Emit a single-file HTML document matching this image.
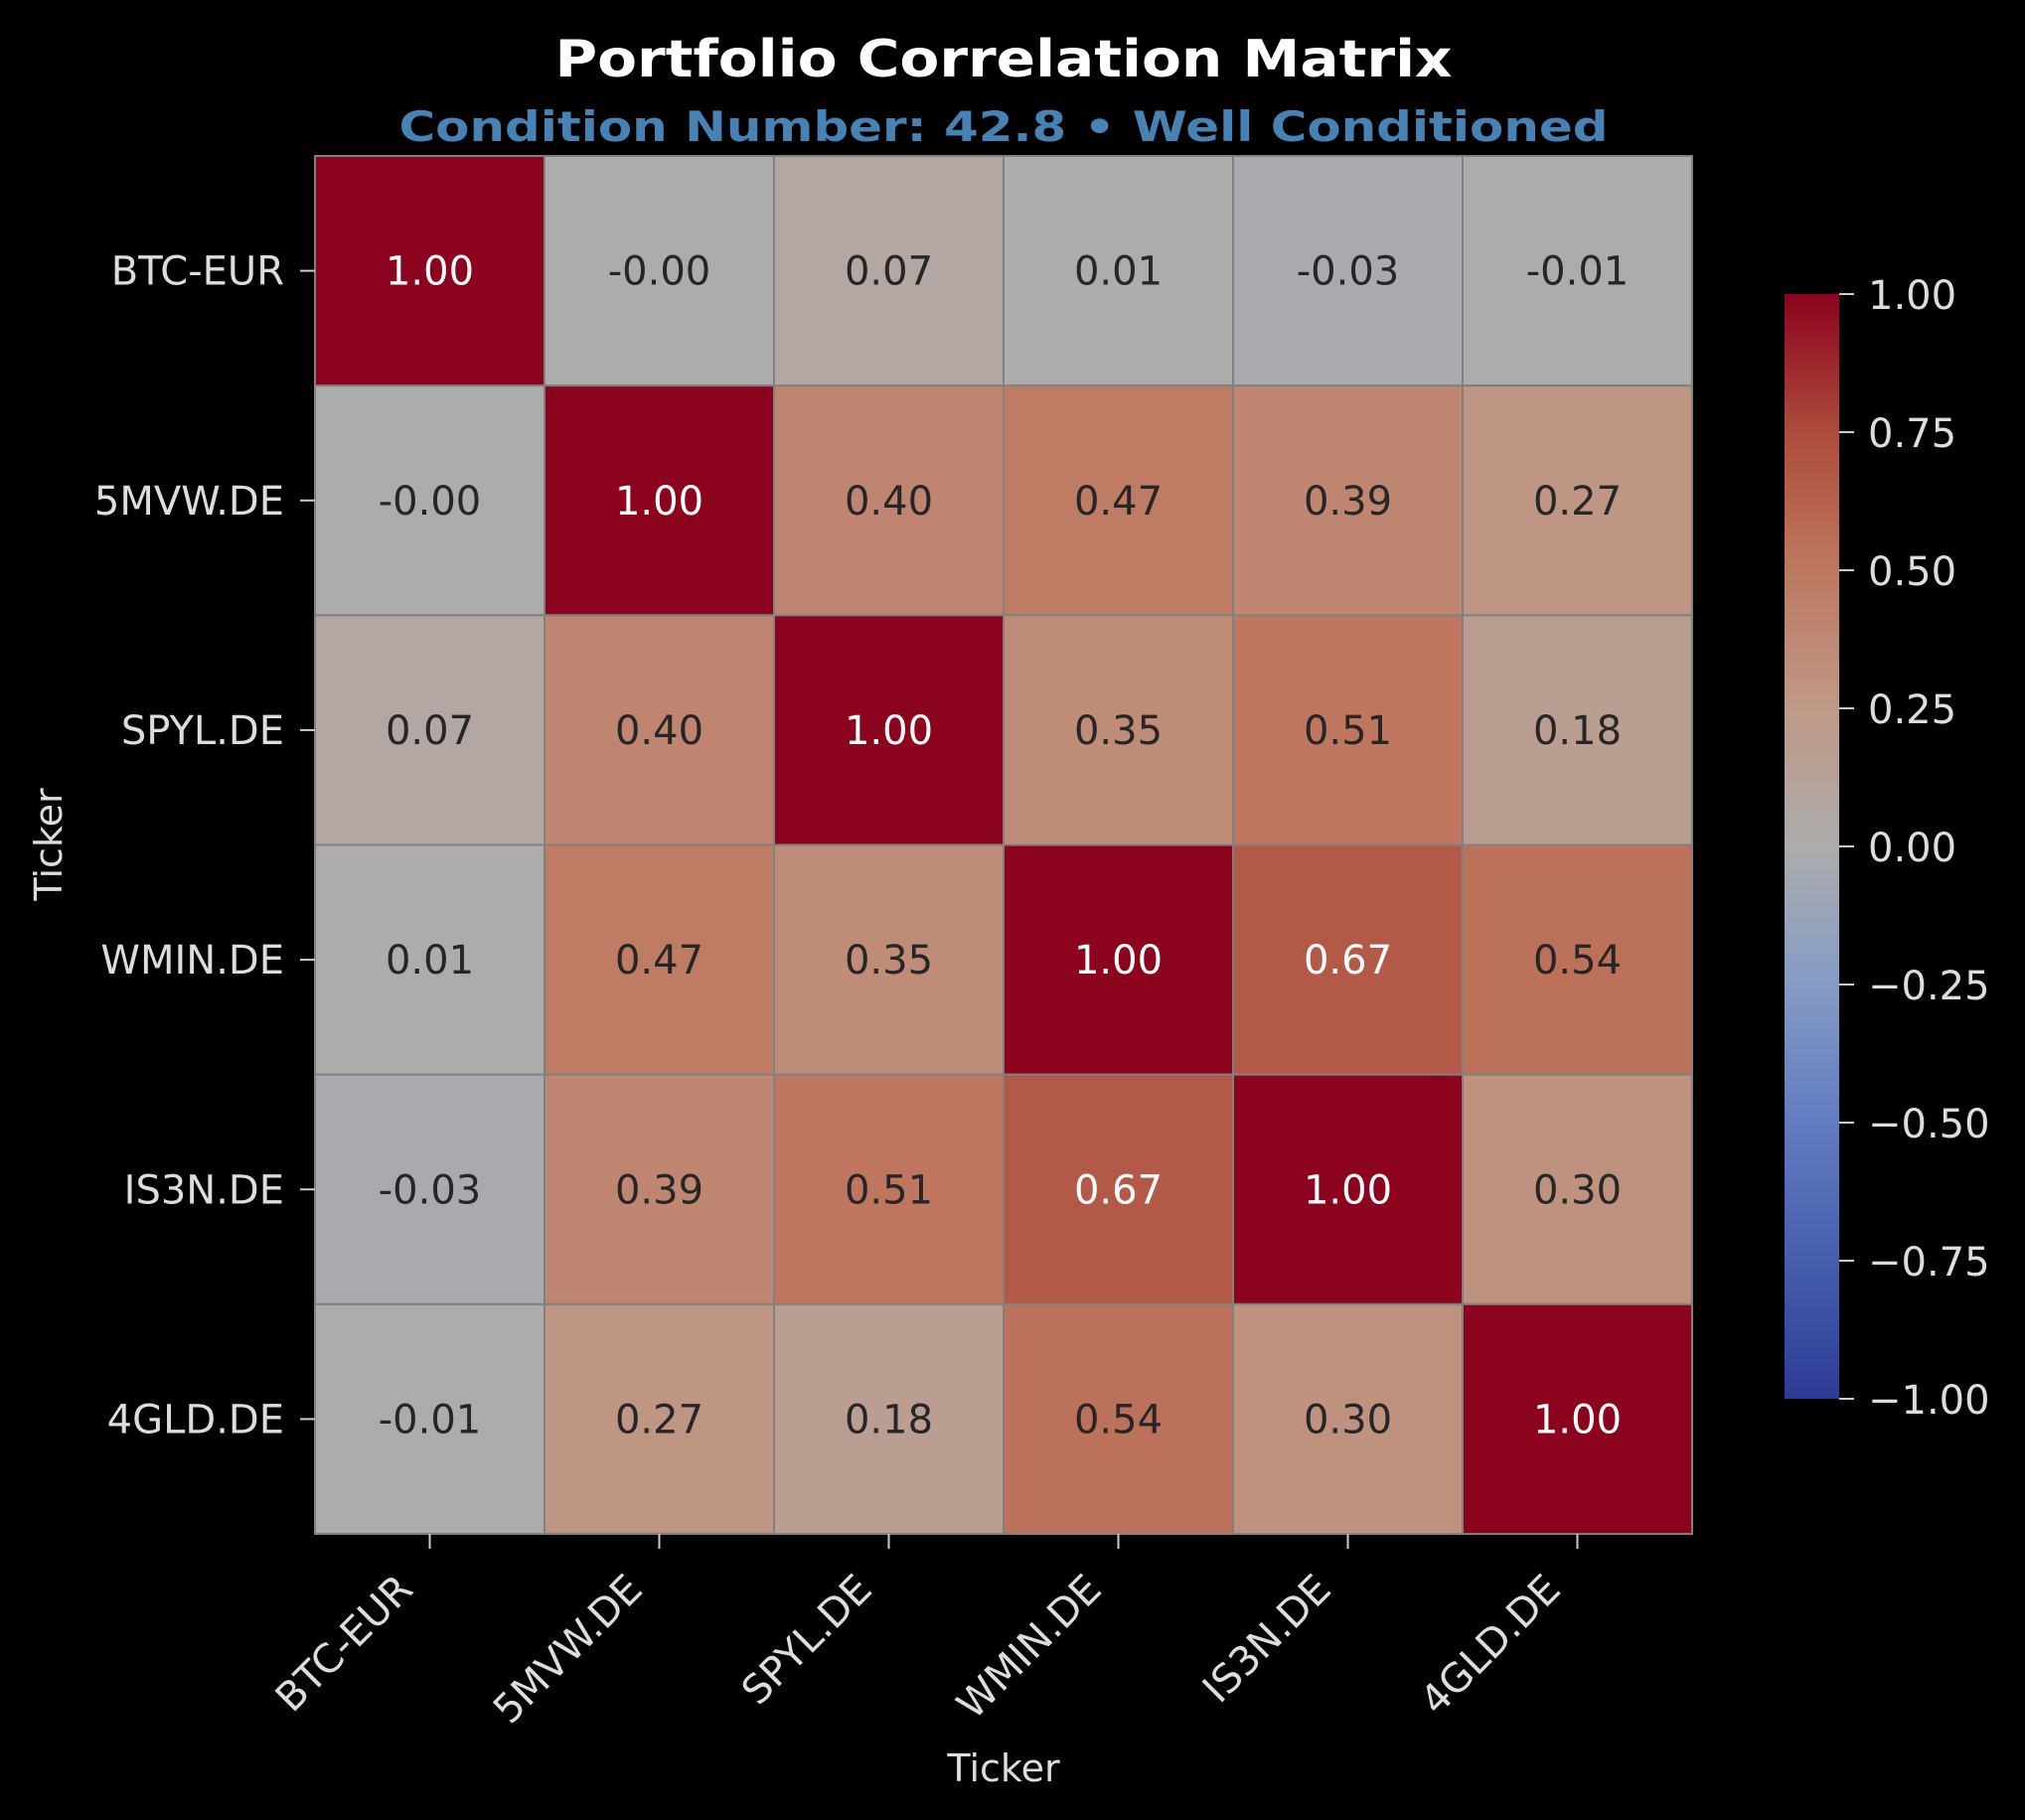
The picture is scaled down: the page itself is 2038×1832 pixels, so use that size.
<!DOCTYPE html>
<html><head><meta charset="utf-8"><style>
html,body{margin:0;padding:0;background:#000;}
svg{display:block;font-family:"DejaVu Sans","Liberation Sans",sans-serif;}
</style></head><body>
<svg id="chart" width="2038" height="1832" viewBox="0 0 2038 1832" xmlns="http://www.w3.org/2000/svg">
<rect x="0" y="0" width="2038" height="1832" fill="#000"/>
<text x="1010" y="77" text-anchor="middle" fill="#fff" font-weight="bold" font-size="52" textLength="903" lengthAdjust="spacingAndGlyphs">Portfolio Correlation Matrix</text>
<text x="1010" y="142" text-anchor="middle" fill="#4682b4" font-weight="bold" font-size="42" textLength="1217" lengthAdjust="spacingAndGlyphs">Condition Number: 42.8 • Well Conditioned</text>
<g id="cells"></g>
<g id="yticks"></g>
<g id="xticks"></g>
<text x="0" y="0" transform="translate(62,850) rotate(-90)" text-anchor="middle" fill="#ddd" font-size="38">Ticker</text>
<text x="1010" y="1793" text-anchor="middle" fill="#ddd" font-size="38">Ticker</text>
<defs><linearGradient id="cbgrad" x1="0" y1="1" x2="0" y2="0"></linearGradient></defs>
<g id="colorbar"></g>
</svg>
<script>
const tickers = ["BTC-EUR","5MVW.DE","SPYL.DE","WMIN.DE","IS3N.DE","4GLD.DE"];
const row0 = [1.00,-0.00,0.07,0.01,-0.03,-0.01];
const row1 = [-0.00,1.00,0.40,0.47,0.39,0.27];
const row2 = [0.07,0.40,1.00,0.35,0.51,0.18];
const row3 = [0.01,0.47,0.35,1.00,0.67,0.54];
const row4 = [-0.03,0.39,0.51,0.67,1.00,0.30];
const row5 = [-0.01,0.27,0.18,0.54,0.30,1.00];
const matrix = [row0,row1,row2,row3,row4,row5];
const cbTicks = [1.00,0.75,0.50,0.25,0.00,-0.25,-0.50,-0.75,-1.00];

const NS="http://www.w3.org/2000/svg";
const L=317,T=157,W=1386,H=1387;
const cw=W/tickers.length, ch=H/tickers.length;
const xPos=i=>L+i*cw, yPos=i=>T+i*ch;
const cbTop=296,cbBot=1408,cbL=1796,cbW=55;
const cbY=v=>cbBot-(v+1)/2*(cbBot-cbTop);
const stops=[[58,76,193],[90,120,221],[124,159,249],[170,199,253],[221,221,221],[245,196,173],[244,154,123],[222,96,77],[180,4,38]];
const A=0.78;
function cmap(v){let t=(v+1)/2*8;t=Math.max(0,Math.min(8,t));let i=Math.min(7,Math.floor(t)),f=t-i;
 return stops[i].map((a,k)=>(a+(stops[i+1][k]-a)*f)*A);}
const rgb=c=>`rgb(${c.map(Math.round).join(",")})`;
function mk(tag,attrs,parent){const e=document.createElementNS(NS,tag);for(const k in attrs)e.setAttribute(k,attrs[k]);parent.appendChild(e);return e;}
const fmt=v=>((Object.is(v,-0)||(v<0&&v>-0.005))?"-0.00":v.toFixed(2));

const cells=document.getElementById('cells');
matrix.forEach((row,r)=>row.forEach((v,c)=>{
 const col=cmap(v);
 const rect=mk('rect',{x:xPos(c),y:yPos(r),width:cw,height:ch,fill:rgb(col),stroke:'#808080','stroke-width':2},cells);
 
 
 const lum=0.299*col[0]+0.587*col[1]+0.114*col[2];
 const tx=mk('text',{x:xPos(c)+cw/2,y:yPos(r)+ch/2+14,'text-anchor':'middle','font-size':40,fill:lum<120?'#fff':'#262626'},cells);
 tx.textContent=fmt(v);
 
 
}));
const yt=document.getElementById('yticks'), xt=document.getElementById('xticks');
tickers.forEach((t,i)=>{
 const cy=yPos(i)+ch/2;
 const ln=mk('line',{x1:302,x2:317,y1:cy,y2:cy,stroke:'#ccc','stroke-width':2},yt);
 
 
 const tx=mk('text',{x:286,y:cy+14,'text-anchor':'end','font-size':40,fill:'#ddd'},yt);
 tx.textContent=t;
 
 
 const cx=xPos(i)+cw/2;
 const lx=mk('line',{x1:cx,x2:cx,y1:1544,y2:1559,stroke:'#ccc','stroke-width':2},xt);
 
 
 const tx2=mk('text',{x:0,y:0,transform:`translate(${cx-15},${1602}) rotate(-45)`,'text-anchor':'end','font-size':40,fill:'#ddd'},xt);
 tx2.textContent=t;
 
 
});
const grad=document.getElementById('cbgrad');
for(let k=0;k<=8;k++){mk('stop',{offset:(k/8),'stop-color':rgb(cmap(-1+k/4))},grad);}
const cb=document.getElementById('colorbar');
const cbr=mk('rect',{x:cbL,y:cbTop,width:cbW,height:cbBot-cbTop,fill:'url(#cbgrad)'},cb);


cbTicks.forEach(v=>{
 const y=cbY(v);
 const l=mk('line',{x1:cbL+cbW,x2:cbL+cbW+15,y1:y,y2:y,stroke:'#ccc','stroke-width':2},cb);
 
 
 const tx=mk('text',{x:1880,y:y+15,'font-size':40,fill:'#ddd'},cb);
 tx.textContent=(v<0?'\u2212':'')+Math.abs(v).toFixed(2);
 
 
});
</script>
</body></html>
